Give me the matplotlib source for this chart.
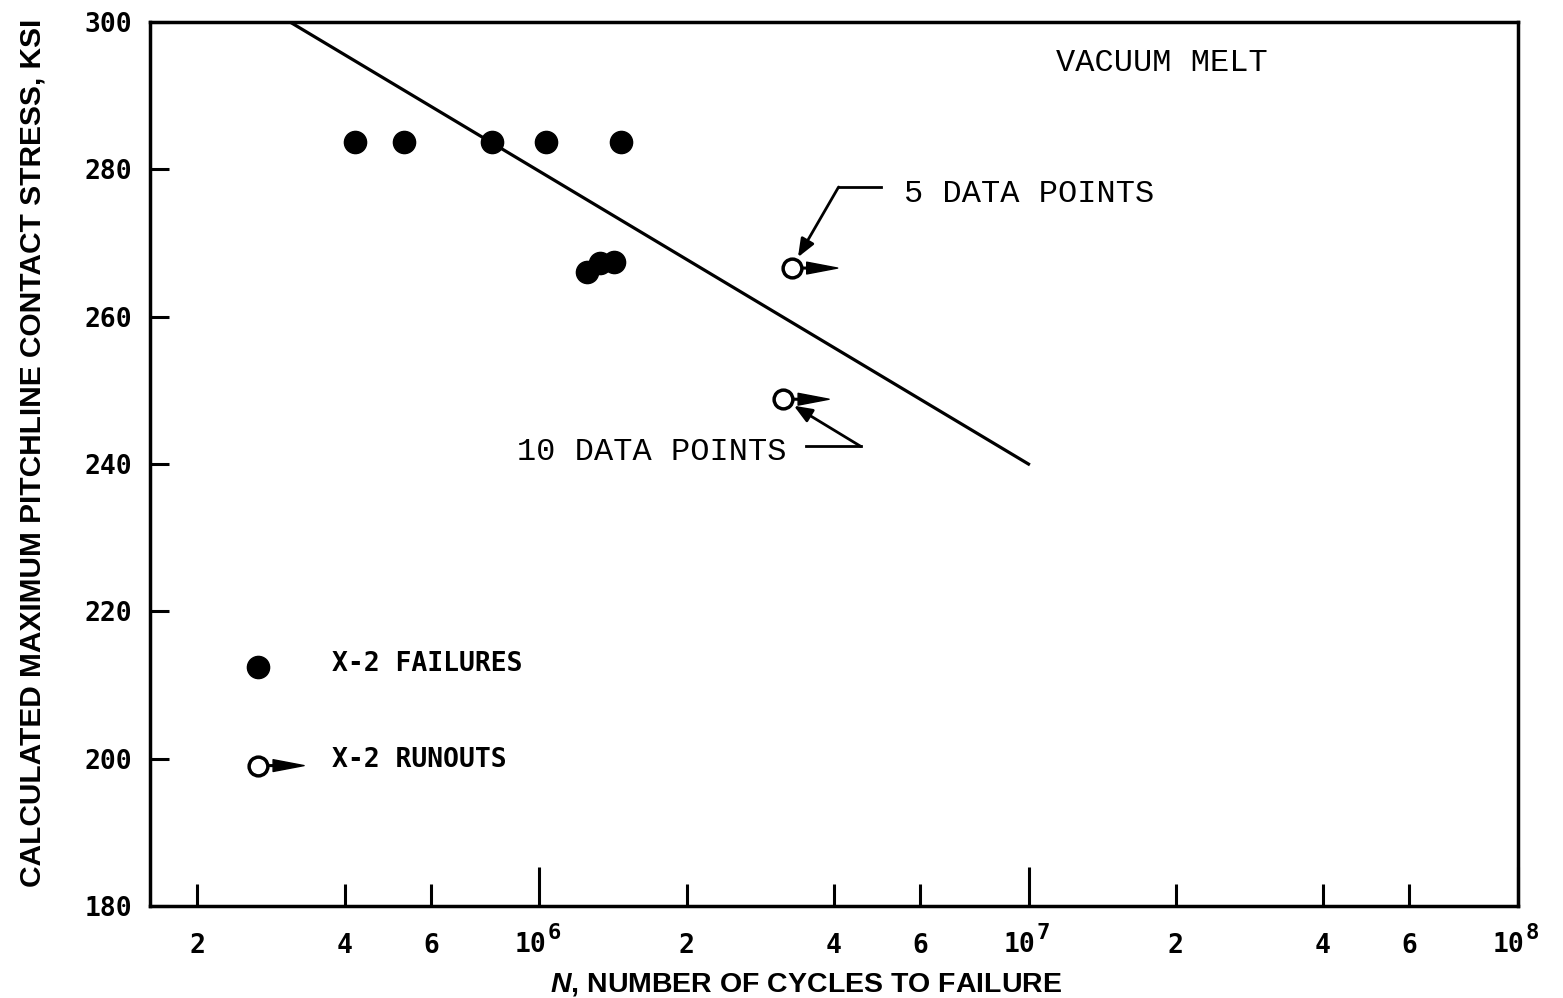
import matplotlib
matplotlib.use("Agg")
import matplotlib.pyplot as plt
from matplotlib.transforms import offset_copy, blended_transform_factory

# valeurs
fail_cycles = [4.2e5, 5.3e5, 8.0e5, 1.03e6, 1.47e6, 1.25e6, 1.33e6, 1.42e6]
fail_stress = [283.7, 283.7, 283.7, 283.7, 283.7, 266.0, 267.3, 267.4]

runout_cycles = [3.28e6, 3.15e6]
runout_stress = [266.6, 248.8]
runout_notes = ["5 DATA POINTS", "10 DATA POINTS"]

fit_cycles = [3.09e5, 1.0e7]
fit_stress = [300, 240]

minor_ticks = [2e5, 4e5, 6e5, 2e6, 4e6, 6e6, 2e7, 4e7, 6e7]
minor_labels = ["2", "4", "6"] * 3
major_ticks = [1e6, 1e7, 1e8]
major_exponents = ["6", "7", "8"]
y_ticks = [180, 200, 220, 240, 260, 280, 300]

TICK_FONT = "DejaVu Sans Mono"
NOTE_FONT = "Liberation Mono"
LABEL_FONT = ["Liberation Sans Narrow", "Liberation Sans"]

plt.rcParams["mathtext.fontset"] = "custom"
plt.rcParams["mathtext.it"] = "Liberation Sans:italic:bold"


def draw_runout(ax, fig, x, y, trans):
    """circle with the little right-pointing dart used for runouts"""
    ax.plot([x], [y], marker="o", ms=13.5, mfc="white", mec="black", mew=2.5,
            transform=trans, zorder=5, clip_on=False)
    def off(d):
        return offset_copy(trans, fig=fig, x=d, y=0, units="dots")
    ax.annotate("", xy=(x, y), xycoords=off(17), xytext=(x, y), textcoords=off(9),
                arrowprops=dict(arrowstyle="-", lw=2.2, color="black",
                                shrinkA=0, shrinkB=0), annotation_clip=False)
    ax.annotate("", xy=(x, y), xycoords=off(46), xytext=(x, y), textcoords=off(15),
                arrowprops=dict(arrowstyle="wedge,tail_width=0.85,shrink_factor=0.5",
                                fc="black", ec="black", lw=1,
                                shrinkA=0, shrinkB=0, mutation_scale=10),
                annotation_clip=False)


fig = plt.figure(figsize=(15.63, 9.98), dpi=100)
ax = fig.add_axes([0.096, 0.092, 0.875, 0.886])

ax.set_xscale("log")
ax.set_xlim(1.6e5, 1e8)
ax.set_ylim(180, 300)

# courbe et points
ax.plot(fit_cycles, fit_stress, color="black", lw=2.3, zorder=3)
ax.plot(fail_cycles, fail_stress, "o", ms=16, color="black", zorder=4)
for xc, yc in zip(runout_cycles, runout_stress):
    draw_runout(ax, fig, xc, yc, ax.transData)

# annotations
ax.text(1.875e7, 294.4, "VACUUM MELT", family=NOTE_FONT, fontsize=23,
        ha="center", va="center")
arrow = dict(arrowstyle="-|>,head_length=0.55,head_width=0.22", lw=2,
             color="black", fc="black", shrinkA=0, shrinkB=9, mutation_scale=20)

ax.text(5.56e6, 276.7, runout_notes[0], family=NOTE_FONT, fontsize=23, va="center")
ax.plot([4.09e6, 4.99e6], [277.6, 277.6], color="black", lw=2)
ax.annotate("", xy=(runout_cycles[0], runout_stress[0]), xytext=(4.09e6, 277.6),
            arrowprops=arrow)

ax.text(9.0e5, 241.6, runout_notes[1], family=NOTE_FONT, fontsize=23, va="center")
ax.plot([3.51e6, 4.54e6], [242.4, 242.4], color="black", lw=2)
ax.annotate("", xy=(runout_cycles[1], runout_stress[1]), xytext=(4.54e6, 242.4),
            arrowprops=arrow)

# legende
ax.plot([0.079], [0.270], "o", ms=16, color="black", transform=ax.transAxes)
draw_runout(ax, fig, 0.079, 0.159, ax.transAxes)
ax.text(0.133, 0.274, "X-2 FAILURES", transform=ax.transAxes, family=TICK_FONT,
        fontweight="bold", fontsize=19, va="center")
ax.text(0.133, 0.165, "X-2 RUNOUTS", transform=ax.transAxes, family=TICK_FONT,
        fontweight="bold", fontsize=19, va="center")

# axes
for s in ax.spines.values():
    s.set_linewidth(2.5)

ax.set_xticks(major_ticks)
ax.set_xticklabels([""] * len(major_ticks))
ax.set_xticks(minor_ticks, minor=True)
ax.set_xticklabels(minor_labels, minor=True)
ax.set_yticks(y_ticks)
ax.set_yticklabels([str(v) for v in y_ticks])

ax.tick_params(axis="x", which="major", direction="in", length=28, width=2.2,
               pad=19, labelsize=19)
ax.tick_params(axis="x", which="minor", direction="in", length=16, width=2.2,
               pad=19, labelsize=19)
ax.tick_params(axis="y", direction="in", length=14, width=2.2, pad=13, labelsize=19)
for lbl in ax.get_xticklabels() + ax.get_xticklabels(minor=True) + ax.get_yticklabels():
    lbl.set_family(TICK_FONT)
    lbl.set_fontweight("bold")

# etiquettes des decades : "10" un peu a gauche du trait, exposant a droite
xa = blended_transform_factory(ax.transData, ax.transAxes)
base_trans = offset_copy(xa, fig=fig, x=-9, y=-26, units="dots")
sup_trans = offset_copy(xa, fig=fig, x=8, y=-33, units="dots")
for tk, ex in zip(major_ticks, major_exponents):
    ax.text(tk, 0, "10", transform=base_trans, family=TICK_FONT, fontweight="bold",
            fontsize=19, ha="center", va="top", clip_on=False)
    ax.text(tk, 0, ex, transform=sup_trans, family=TICK_FONT, fontweight="bold",
            fontsize=16, ha="left", va="baseline", clip_on=False)

ax.set_ylabel("CALCULATED MAXIMUM PITCHLINE CONTACT STRESS, KSI",
              family=LABEL_FONT, fontweight="bold", fontsize=21.5, labelpad=27, y=0.513)
ax.set_xlabel(r"$\mathit{N}$, NUMBER OF CYCLES TO FAILURE",
              family=LABEL_FONT, fontweight="bold", fontsize=20.5, labelpad=9, x=0.48)

fig.savefig("out.png", dpi=100)
